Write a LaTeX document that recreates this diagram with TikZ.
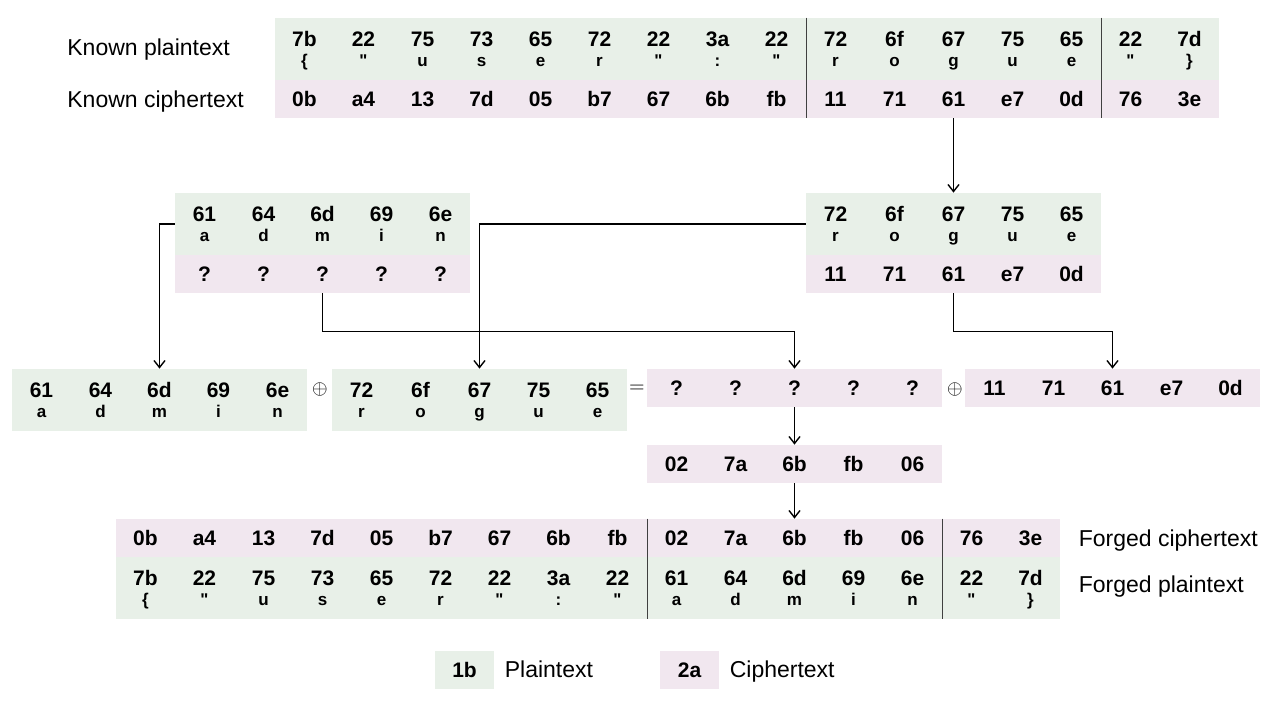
\documentclass[tikz,border=0pt]{standalone}
\usepackage{fontspec}
\setmainfont{Liberation Sans}
\usetikzlibrary{positioning,arrows.meta}

\definecolor{ptgreen}{RGB}{232,240,232}
\definecolor{ctpink}{RGB}{241,231,239}
\newcommand{\hexfont}{\fontsize{10.5}{12}\selectfont\bfseries}
\newcommand{\chrfont}{\fontsize{8.5}{9}\selectfont\bfseries}
\newcommand{\qq}{\textquotedbl}

\tikzstyle{ptcell} = [fill=ptgreen, minimum width=29.5pt, minimum height=31pt, inner sep=0pt]
\tikzstyle{ctcell} = [fill=ctpink, minimum width=29.5pt, minimum height=19pt, inner sep=0pt, font=\hexfont, text height=7.5pt, text depth=0pt]
\tikzstyle{hextxt} = [anchor=base, inner sep=0pt, font=\hexfont]
\tikzstyle{chrtxt} = [anchor=base, inner sep=0pt, font=\chrfont]
\tikzstyle{rowlabel} = [anchor=west, inner sep=0pt, font=\fontsize{11.5}{13}\selectfont, text height=8.3pt, text depth=0pt]
\tikzstyle{divider} = [draw=black!75, line width=0.6pt]
\tikzstyle{flow} = [draw, line width=0.7pt, -{Straight Barb[length=3.5pt,width=5.5pt]}]

\begin{document}
\begin{tikzpicture}[x=0.5pt, y=-0.5pt]
    \useasboundingbox (0,0) rectangle (1280,720);
    % Known plaintext / ciphertext
    \foreach \h/\c/\k [count=\i] in {7b/\{/0b, 22/\qq/a4, 75/u/13, 73/s/7d, 65/e/05, 72/r/b7, 22/\qq/67, 3a/:/6b, 22/\qq/fb,
                                     72/r/11, 6f/o/71, 67/g/61, 75/u/e7, 65/e/0d, 22/\qq/76, 7d/\}/3e} {
        \node[ptcell] (kp\i) at (245.5+59*\i, 49) {};
        \node[hextxt] at ([yshift=-14.25pt]kp\i.north) {\h};
        \node[chrtxt] at ([yshift=-24.5pt]kp\i.north) {\c};
        \node[ctcell] (kc\i) at (245.5+59*\i, 99) {\k};
    }
    \draw[divider] (kp9.north east) -- (kc9.south east);
    \draw[divider] (kp14.north east) -- (kc14.south east);
    \node[rowlabel] (kplabel) at (67, 47) {Known plaintext};
    \node[rowlabel] (kclabel) at (67, 99) {Known ciphertext};

    % Chosen and known fragments
    \foreach \h/\c [count=\i] in {61/a, 64/d, 6d/m, 69/i, 6e/n} {
        \node[ptcell] (ap\i) at (145.5+59*\i, 224) {};
        \node[hextxt] at ([yshift=-14.25pt]ap\i.north) {\h};
        \node[chrtxt] at ([yshift=-24.5pt]ap\i.north) {\c};
        \node[ctcell] (ac\i) at (145.5+59*\i, 274) {?};
    }
    \foreach \h/\c/\k [count=\i] in {72/r/11, 6f/o/71, 67/g/61, 75/u/e7, 65/e/0d} {
        \node[ptcell] (rp\i) at (776.5+59*\i, 224) {};
        \node[hextxt] at ([yshift=-14.25pt]rp\i.north) {\h};
        \node[chrtxt] at ([yshift=-24.5pt]rp\i.north) {\c};
        \node[ctcell] (rc\i) at (776.5+59*\i, 274) {\k};
    }

    % XOR line
    \foreach \h/\c [count=\i] in {61/a, 64/d, 6d/m, 69/i, 6e/n} {
        \node[ptcell] (xa\i) at (-17.5+59*\i, 400) {};
        \node[hextxt] at ([yshift=-14.25pt]xa\i.north) {\h};
        \node[chrtxt] at ([yshift=-24.5pt]xa\i.north) {\c};
    }
    \foreach \h/\c [count=\i] in {72/r, 6f/o, 67/g, 75/u, 65/e} {
        \node[ptcell] (xr\i) at (302.5+59*\i, 400) {};
        \node[hextxt] at ([yshift=-14.25pt]xr\i.north) {\h};
        \node[chrtxt] at ([yshift=-24.5pt]xr\i.north) {\c};
    }
    \foreach \k [count=\i] in {?, ?, ?, ?, ?} {
        \node[ctcell] (xq\i) at (617.5+59*\i, 388) {\k};
    }
    \foreach \k [count=\i] in {11, 71, 61, e7, 0d} {
        \node[ctcell] (xc\i) at (935.5+59*\i, 388) {\k};
    }
    \node (xor1) at (320, 389) {$\oplus$};
    \node (eq) at (637, 389) {$=$};
    \node (xor2) at (955, 389) {$\oplus$};

    % Result
    \foreach \k [count=\i] in {02, 7a, 6b, fb, 06} {
        \node[ctcell] (res\i) at (617.5+59*\i, 464) {\k};
    }

    % Forged ciphertext / plaintext
    \foreach \h/\c/\k [count=\i] in {7b/\{/0b, 22/\qq/a4, 75/u/13, 73/s/7d, 65/e/05, 72/r/b7, 22/\qq/67, 3a/:/6b, 22/\qq/fb,
                                     61/a/02, 64/d/7a, 6d/m/6b, 69/i/fb, 6e/n/06, 22/\qq/76, 7d/\}/3e} {
        \node[ctcell] (fc\i) at (86.5+59*\i, 538) {\k};
        \node[ptcell] (fp\i) at (86.5+59*\i, 588) {};
        \node[hextxt] at ([yshift=-14.25pt]fp\i.north) {\h};
        \node[chrtxt] at ([yshift=-24.5pt]fp\i.north) {\c};
    }
    \draw[divider] (fc9.north east) -- (fp9.south east);
    \draw[divider] (fc14.north east) -- (fp14.south east);
    \node[rowlabel, right=9pt of fc16] (fclabel) {Forged ciphertext};
    \node[rowlabel, right=9pt of fp16, yshift=2pt] (fplabel) {Forged plaintext};

    % Legend
    \node[ctcell, fill=ptgreen] (legpt) at (464.5, 669.5) {1b};
    \node[rowlabel, right=5pt of legpt] (legptlabel) {Plaintext};
    \node[ctcell] (legct) at (689.5, 669.5) {2a};
    \node[rowlabel, right=5pt of legct] (legctlabel) {Ciphertext};

    % Connectors
    \draw[flow] (kc12.south) -- (rp3.north);
    \draw[flow] (rp1.west) -| (xr3.north);
    \draw[flow] (ap1.west) -| (xa3.north);
    \draw[flow] (ac3.south) -- ++(0,38) -| (xq3.north);
    \draw[flow] (rc3.south) -- ++(0,38) -| (xc3.north);
    \draw[flow] (xq3.south) -- (res3.north);
    \draw[flow] (res3.south) -- (fc12.north);
\end{tikzpicture}
\end{document}
